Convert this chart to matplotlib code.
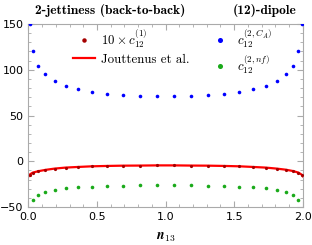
import matplotlib
matplotlib.use("Agg")
import matplotlib.pyplot as plt
from matplotlib.ticker import MultipleLocator
import numpy as np

# sample points in n13
n13 = [0.008, 0.031, 0.070, 0.124, 0.191, 0.271, 0.363, 0.464, 0.575, 0.691, 0.813, 0.937,
       1.063, 1.187, 1.309, 1.425, 1.536, 1.637, 1.729, 1.809, 1.876, 1.930, 1.969, 1.992]

c1_x10 = [-14.6, -12.4, -10.9, -9.4, -8.0, -6.9, -6.2, -5.5, -5.1, -4.8, -4.7, -4.5,
          -4.5, -4.7, -4.8, -5.1, -5.5, -6.2, -6.9, -8.0, -9.2, -10.7, -12.4, -14.6]

c2_CA = [149.5, 120.8, 104.3, 95.0, 87.5, 82.8, 79.1, 76.2, 74.0, 72.6, 71.2, 71.1,
         71.1, 71.2, 72.6, 74.0, 76.2, 79.1, 82.8, 87.5, 95.0, 104.3, 120.8, 149.5]

c2_nf = [-55.0, -42.3, -36.7, -33.5, -31.4, -29.6, -28.5, -27.7, -27.0, -26.6, -26.3, -26.1,
         -26.1, -26.3, -26.6, -27.0, -27.7, -28.6, -29.6, -31.4, -33.7, -36.8, -42.0, -55.0]

# Jouttenus et al. curve
jout_x = [0.0, 0.008, 0.031, 0.070, 0.124, 0.191, 0.271, 0.363, 0.464, 0.575, 0.691, 0.813, 0.937,
          1.063, 1.187, 1.309, 1.425, 1.536, 1.637, 1.729, 1.809, 1.876, 1.930, 1.969, 1.992, 2.0]
jout_y = [-16.6, -14.6, -12.4, -10.9, -9.4, -8.0, -6.9, -6.2, -5.5, -5.1, -4.8, -4.7, -4.5,
          -4.5, -4.7, -4.8, -5.1, -5.5, -6.2, -6.9, -8.0, -9.2, -10.7, -12.4, -14.6, -16.4]

plt.rcParams['mathtext.fontset'] = 'cm'

fig = plt.figure(figsize=(3.12, 2.45), dpi=100)
ax = fig.add_axes([0.0913, 0.155, 0.879, 0.747])

ax.plot(jout_x, jout_y, color='#ff0000', lw=1.6, label='Jouttenus et al.', zorder=2)
ax.plot(n13, c1_x10, 'o', color='#a50000', ms=2.3, mew=0, label=r'$10\times c_{12}^{(1)}$', zorder=3)
ax.plot(n13, c2_CA, 'o', color='#0000ff', ms=2.6, mew=0, label=r'$c_{12}^{(2,C_A)}$', zorder=3)
ax.plot(n13, c2_nf, 'o', color='#1aaa1a', ms=2.6, mew=0, label=r'$c_{12}^{(2,n f)}$', zorder=3)

ax.set_xlim(0, 2)
ax.set_ylim(-50, 150)
ax.xaxis.set_major_locator(plt.FixedLocator([0, 0.5, 1.0, 1.5, 2.0]))
ax.xaxis.set_minor_locator(MultipleLocator(0.1))
ax.yaxis.set_major_locator(plt.FixedLocator([-50, 0, 50, 100, 150]))
ax.yaxis.set_minor_locator(MultipleLocator(10))
ax.tick_params(which='both', direction='in', top=True, right=True, color='#aaaaaa',
               labelsize=8)
ax.tick_params(which='major', length=4, width=0.8)
ax.tick_params(which='minor', length=2, width=0.6)
ax.set_xticklabels(['0.0', '0.5', '1.0', '1.5', '2.0'])
ax.set_yticklabels(['\u221250', '0', '50', '100', '150'])
for s in ax.spines.values():
    s.set_color('#aaaaaa')
    s.set_linewidth(0.8)

ax.set_xlabel(r'$\boldsymbol{n}_{\mathbf{13}}$', fontsize=10, labelpad=6)

fig.text(0.112, 0.958, '2-jettiness (back-to-back)', family='cmb10',
         fontsize=9.7, va='center', ha='left')
fig.text(0.95, 0.958, '(12)-dipole', family='cmb10',
         fontsize=9.7, va='center', ha='right')

h, l = ax.get_legend_handles_labels()
order = [1, 0, 2, 3]
ax.legend([h[i] for i in order], [l[i] for i in order], ncol=2, frameon=False,
          loc='upper left', bbox_to_anchor=(0.13, 1.032), borderpad=0.2,
          columnspacing=1.55, handlelength=1.7, handletextpad=0.45, labelspacing=0.3,
          markerscale=1.4, prop={'family': 'cmr10', 'size': 9.3})

fig.savefig('out.png', dpi=100)
